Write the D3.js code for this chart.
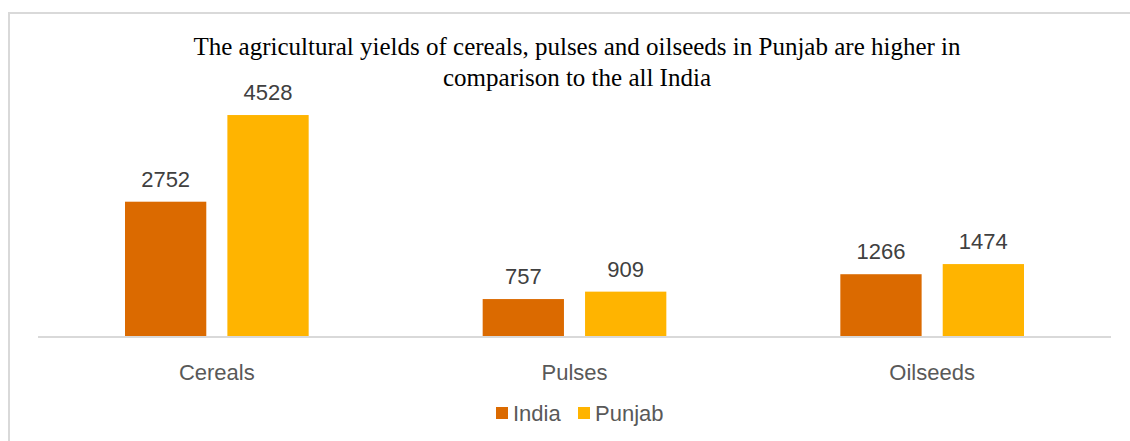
<!DOCTYPE html>
<html lang="en">
<head>
    <meta charset="UTF-8">
    <title>Agricultural yields: Punjab vs India</title>
    <script src="https://cdnjs.cloudflare.com/ajax/libs/d3/7.8.5/d3.min.js"></script>
    <style>
        html, body { margin: 0; padding: 0; background: #fff; overflow: hidden; }
        svg { display: block; }
        .title { font-family: "Liberation Serif", "Times New Roman", serif; font-size: 25px; fill: #000; }
        .value { font-family: "Liberation Sans", Arial, sans-serif; font-size: 22px; fill: #404040; }
        .cat { font-family: "Liberation Sans", Arial, sans-serif; font-size: 22px; fill: #595959; }
        .legend text { font-family: "Liberation Sans", Arial, sans-serif; font-size: 22px; fill: #595959; }
    </style>
</head>
<body>
    <div id="chart"></div>

    <script>
        // data
        const categories = ["Cereals", "Pulses", "Oilseeds"];
        const seriesNames = ["India", "Punjab"];
        const indiaValues = [2752, 757, 1266];
        const punjabValues = [4528, 909, 1474];
        const seriesColors = ["#db6a00", "#ffb400"];
        const titleLines = [
            "The agricultural yields of cereals, pulses and oilseeds in Punjab are higher in",
            "comparison to the all India"
        ];

        const width = 1130;
        const height = 441;
        const plot = {left: 38, right: 1111, baseline: 336};

        const svg = d3.select("#chart")
            .append("svg")
            .attr("width", width)
            .attr("height", height);

        // chart area border (runs off the right/bottom of the window)
        svg.append("rect")
            .attr("x", 9)
            .attr("y", 13)
            .attr("width", width + 20)
            .attr("height", height + 20)
            .attr("fill", "none")
            .attr("stroke", "#d9d9d9")
            .attr("stroke-width", 2);

        // title
        svg.append("text")
            .attr("class", "title")
            .attr("text-anchor", "middle")
            .selectAll("tspan")
            .data(titleLines)
            .enter().append("tspan")
            .attr("x", 577)
            .attr("y", (d, i) => 55 + i * 31)
            .text(d => d);

        const x0 = d3.scaleBand()
            .domain(categories)
            .range([plot.left, plot.right]);

        const x1 = d3.scaleBand()
            .domain(seriesNames)
            .range([87, x0.bandwidth() - 87])
            .paddingInner(0.206);

        const y = d3.scaleLinear()
            .domain([0, 5000])
            .range([plot.baseline, 92]);

        const rows = categories.map((c, i) => ({
            category: c,
            values: [
                {series: "India", value: indiaValues[i]},
                {series: "Punjab", value: punjabValues[i]}
            ]
        }));

        const color = d3.scaleOrdinal().domain(seriesNames).range(seriesColors);

        const groups = svg.selectAll(".cat-group")
            .data(rows)
            .enter().append("g")
            .attr("class", "cat-group")
            .attr("transform", d => `translate(${x0(d.category)},0)`);

        groups.selectAll("rect")
            .data(d => d.values)
            .enter().append("rect")
            .attr("x", d => x1(d.series))
            .attr("y", d => y(d.value))
            .attr("width", x1.bandwidth())
            .attr("height", d => y(0) - y(d.value))
            .attr("fill", d => color(d.series));

        groups.selectAll(".value")
            .data(d => d.values)
            .enter().append("text")
            .attr("class", "value")
            .attr("text-anchor", "middle")
            .attr("x", d => x1(d.series) + x1.bandwidth() / 2)
            .attr("y", d => y(d.value) - 15)
            .text(d => d.value);

        // horizontal axis line
        svg.append("line")
            .attr("x1", plot.left)
            .attr("x2", plot.right)
            .attr("y1", plot.baseline + 1)
            .attr("y2", plot.baseline + 1)
            .attr("stroke", "#d9d9d9")
            .attr("stroke-width", 2);

        // category labels
        svg.selectAll(".cat")
            .data(categories)
            .enter().append("text")
            .attr("class", "cat")
            .attr("text-anchor", "middle")
            .attr("x", d => x0(d) + x0.bandwidth() / 2)
            .attr("y", 380)
            .text(d => d);

        // legend
        const legend = svg.append("g").attr("class", "legend");
        const legendX = [496, 578];
        seriesNames.forEach((name, i) => {
            legend.append("rect")
                .attr("x", legendX[i])
                .attr("y", 407)
                .attr("width", 12)
                .attr("height", 12)
                .attr("fill", color(name));
            legend.append("text")
                .attr("x", legendX[i] + 17)
                .attr("y", 421)
                .text(name);
        });
    </script>
</body>
</html>
